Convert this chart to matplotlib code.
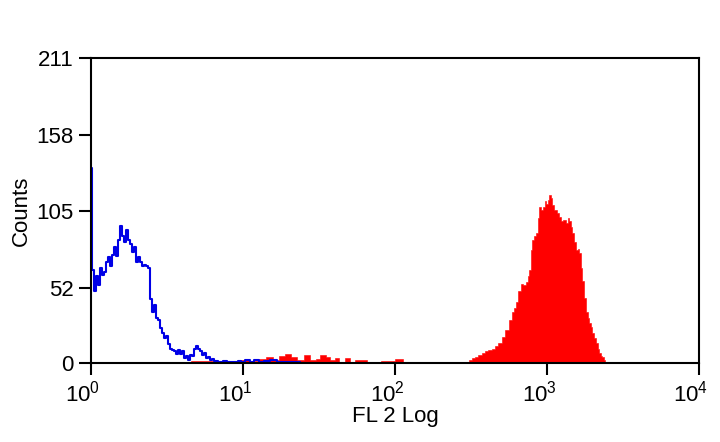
import numpy as np
import matplotlib.pyplot as plt
import matplotlib.transforms as mtransforms

plt.rcParams['font.family'] = ['Liberation Sans', 'DejaVu Sans']
plt.rcParams['mathtext.fontset'] = 'custom'
plt.rcParams['mathtext.rm'] = 'Liberation Sans'

# FL2 channel positions (log10 of intensity) and counts
blue_log = [0.000, 0.013, 0.026, 0.039, 0.053, 0.066, 0.079, 0.092, 0.105, 0.118,
            0.132, 0.145, 0.158, 0.171, 0.184, 0.197, 0.211, 0.224, 0.237, 0.250,
            0.263, 0.276, 0.289, 0.303, 0.316, 0.329, 0.342, 0.355, 0.368, 0.382,
            0.395, 0.408, 0.421, 0.434, 0.447, 0.461, 0.474, 0.487, 0.500, 0.513,
            0.526, 0.539, 0.553, 0.566, 0.579, 0.592, 0.605, 0.618, 0.632, 0.645,
            0.658, 0.671, 0.684, 0.697, 0.711, 0.724, 0.737, 0.750, 0.763, 0.776,
            0.789, 0.803, 0.816, 0.850, 0.880, 0.910, 0.950, 0.980, 1.000, 1.030,
            1.060, 1.090, 1.120, 1.150, 1.200, 1.250, 1.300, 1.350, 1.400]
blue_counts = [135, 64, 50, 60, 54, 66, 61, 63, 70, 73,
               67, 75, 80, 74, 85, 95, 88, 84, 92, 85,
               82, 77, 80, 70, 73, 70, 67, 68, 67, 66,
               44, 35, 40, 31, 30, 24, 21, 17, 19, 13,
               10, 9, 8, 6, 9, 6, 8, 3.5, 5, 2,
               5.5, 5, 10, 12, 10, 8, 5.5, 7, 3.5, 4,
               2, 3, 1.5, 1, 1.5, 1, 0.5, 1.5, 1, 2,
               1, 2, 1, 1.5, 2, 1, 1, 0.5, 0]

red_log = [0.586, 0.717, 0.914, 1.013, 1.079, 1.125, 1.178, 1.217, 1.257, 1.296,
           1.336, 1.375, 1.421, 1.461, 1.493, 1.526, 1.559, 1.586, 1.618, 1.651,
           1.684, 1.717, 1.750, 1.789, 1.836, 1.967, 2.033, 2.066, 2.100, 2.470,
           2.480, 2.497, 2.513, 2.536, 2.559, 2.582, 2.605, 2.625, 2.645, 2.668,
           2.691, 2.714, 2.737, 2.757, 2.776, 2.790, 2.803, 2.820, 2.836, 2.852,
           2.868, 2.878, 2.888, 2.898, 2.908, 2.921, 2.934, 2.944, 2.954, 2.967,
           2.980, 2.990, 3.000, 3.010, 3.020, 3.030, 3.039, 3.055, 3.072, 3.085,
           3.099, 3.115, 3.132, 3.141, 3.151, 3.161, 3.171, 3.184, 3.197, 3.207,
           3.217, 3.227, 3.237, 3.250, 3.263, 3.273, 3.283, 3.293, 3.303, 3.316,
           3.329, 3.339, 3.349, 3.358, 3.368, 3.378, 3.388]
red_counts = [1, 1.5, 1, 2, 1.5, 2.5, 4, 2, 5, 6,
              4, 2, 5.5, 2, 3, 5.5, 4, 2, 3.5, 1,
              3.5, 1, 2, 2, 0, 1.5, 3, 1, 0, 0,
              0.5, 2, 3.5, 4.5, 5.5, 7, 8, 9, 10, 12,
              14, 18, 23, 30, 35, 38, 42, 50, 55, 54,
              56, 60, 64, 78, 85, 88, 90, 100, 108, 106,
              108, 112, 110, 113, 116, 114, 109, 106, 104, 101,
              98, 99, 97, 100, 98, 94, 90, 84, 78, 79,
              76, 66, 57, 45, 35, 31, 28, 25, 21, 17,
              14, 10, 7, 5, 4, 2, 0]

y_ticks = [0, 52, 105, 158, 211]

fig = plt.figure(figsize=(7.2, 4.42), dpi=100)
ax = fig.add_axes([0.1264, 0.1787, 0.8444, 0.6901])

ax.fill_between(10 ** np.array(red_log), red_counts, step='mid',
                facecolor='red', edgecolor='red', lw=0.4)
ax.step(10 ** np.array(blue_log), blue_counts, where='mid', color='#0000e6', lw=1.5)

ax.set_xscale('log')
ax.set_xlim(1, 1e4)
ax.set_ylim(0, 211)
ax.set_xticks([1, 10, 100, 1000, 10000])
ax.set_xticklabels([r'$10^{0}$', r'$10^{1}$', r'$10^{2}$', r'$10^{3}$', r'$10^{4}$'])
ax.minorticks_off()
ax.set_yticks(y_ticks)

for s in ax.spines.values():
    s.set_linewidth(1.5)
ax.tick_params(direction='out', length=8.5, width=1.5, labelsize=16)
ax.tick_params(axis='y', pad=4)
ax.tick_params(axis='x', pad=4)
ax.set_xlabel('FL 2 Log', fontsize=16, labelpad=0)
ax.set_ylabel('Counts', fontsize=16, labelpad=3)

# x labels sit a bit left of their ticks
shift = mtransforms.ScaledTranslation(-8 / 100, 0, fig.dpi_scale_trans)
for lab in ax.get_xticklabels():
    lab.set_transform(lab.get_transform() + shift)

plt.savefig('out.png', dpi=100)
